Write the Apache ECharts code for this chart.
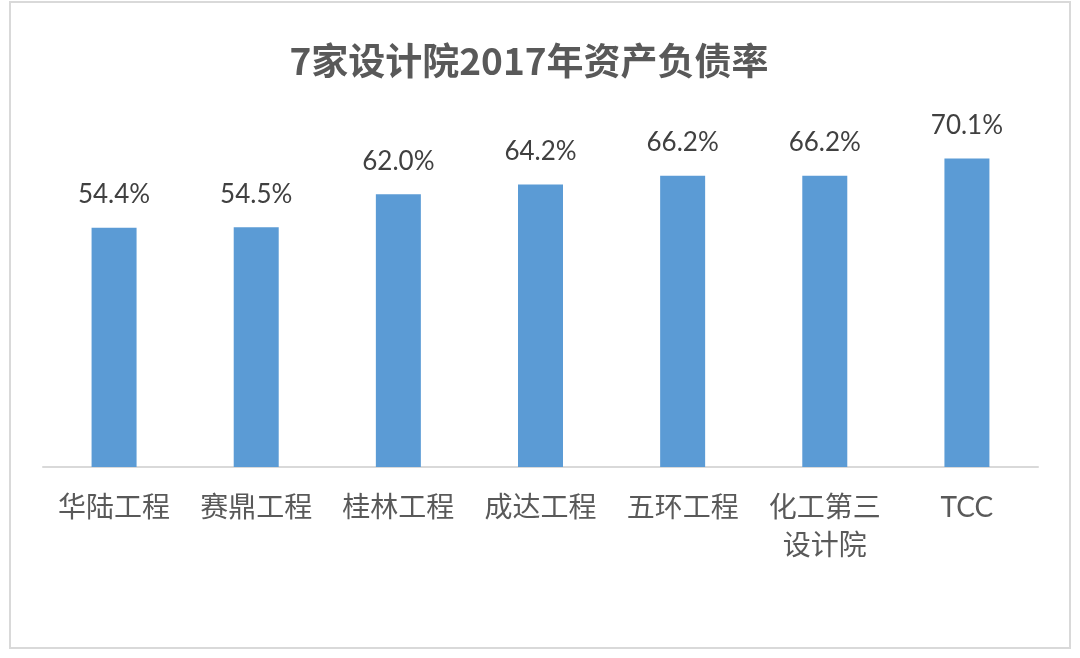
<!DOCTYPE html>
<html><head><meta charset="utf-8">
<script src="https://cdn.jsdelivr.net/npm/echarts@6/dist/echarts.min.js"></script>
<style>html,body{margin:0;padding:0;background:#fff}#c{width:1080px;height:658px}</style>
</head><body><div id="c"></div>
<script>
const categories = ['华陆工程', '赛鼎工程', '桂林工程', '成达工程', '五环工程', '化工第三\n设计院', 'TCC'];
const values = [54.4, 54.5, 62.0, 64.2, 66.2, 66.2, 70.1];
const titleText = '7家设计院2017年资产负债率';

const chart = echarts.init(document.getElementById('c'));
chart.setOption({
  backgroundColor: '#fff',
  animation: false,
  title: {
    text: titleText, left: 524, top: 37, textAlign: 'center',
    textStyle: {fontSize: 37, fontWeight: 'bold', color: '#595959', fontFamily: "'Noto Sans CJK SC', Lato, sans-serif"}
  },
  graphic: [{
    type: 'rect', shape: {x: 10, y: 2, width: 1060, height: 646},
    style: {fill: 'none', stroke: '#d9d9d9', lineWidth: 2}, silent: true, z: -1
  }],
  grid: {left: 43, right: 42, top: 115, bottom: 191},
  xAxis: {
    type: 'category', data: categories,
    axisLine: {lineStyle: {color: '#d9d9d9', width: 2}},
    axisTick: {show: false},
    axisLabel: {interval: 0, color: '#595959', fontSize: 28, fontWeight: 'normal', lineHeight: 38, margin: 22,
      fontFamily: "Lato, 'Noto Sans CJK SC', sans-serif"}
  },
  yAxis: {type: 'value', min: 0, max: 80, show: false, splitLine: {show: false}},
  series: [{
    type: 'bar', data: values, barWidth: 45,
    itemStyle: {color: '#5B9BD5'},
    label: {show: true, position: 'top', distance: 20, color: '#404040', fontSize: 26,
      fontFamily: "Lato, 'Noto Sans CJK SC', sans-serif",
      formatter: p => p.value.toFixed(1) + '%'}
  }]
});
</script></body></html>
